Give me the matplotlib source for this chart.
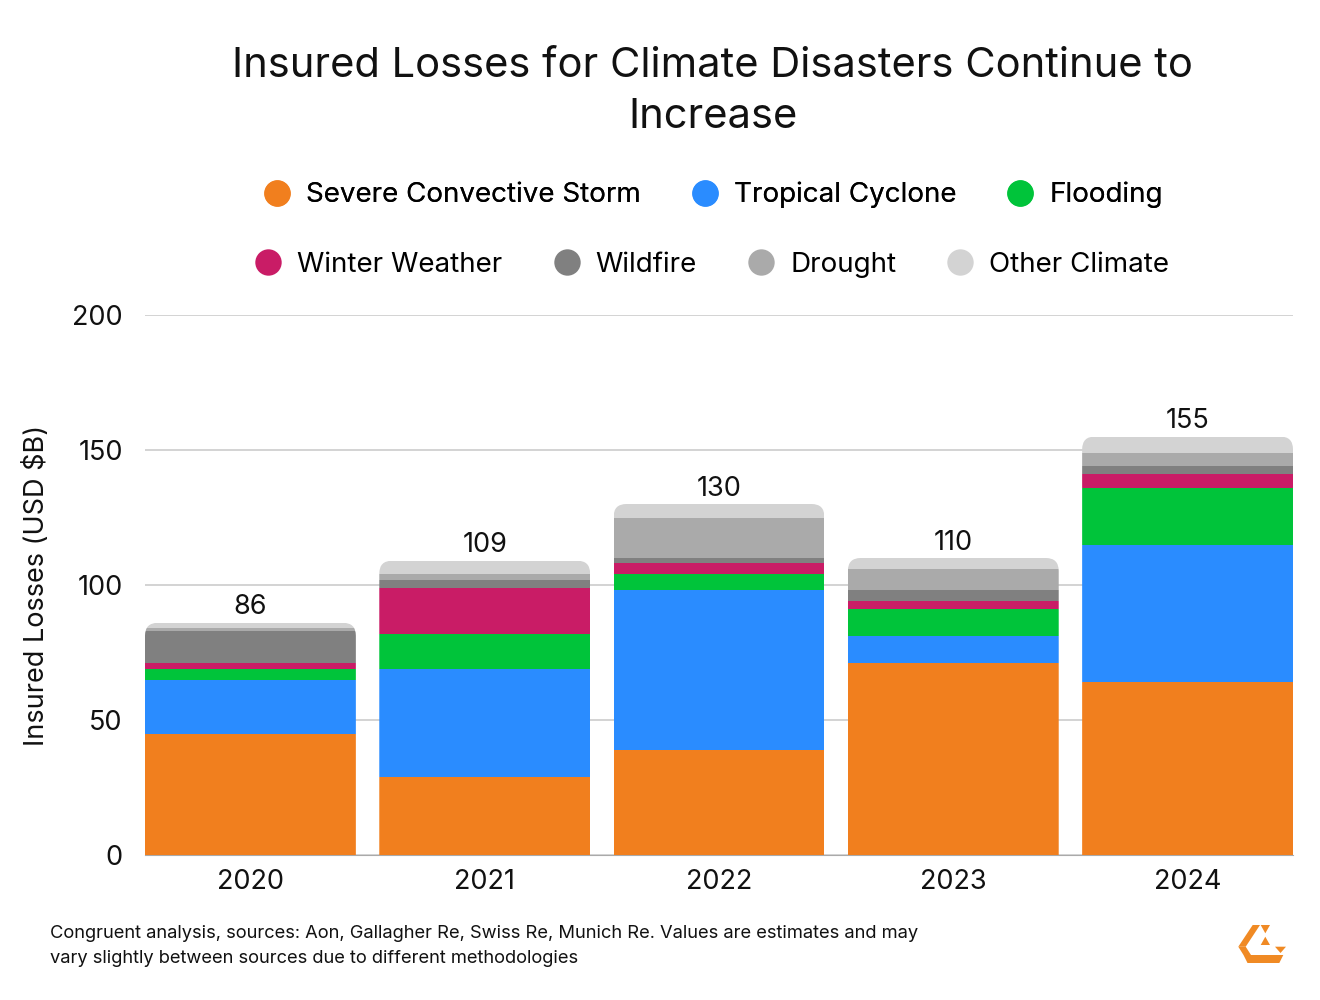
import matplotlib
matplotlib.use("Agg")
import matplotlib.pyplot as plt
from matplotlib.patches import FancyBboxPatch, Polygon
from matplotlib.lines import Line2D
import numpy as np

plt.rcParams['font.family'] = ['Inter', 'DejaVu Sans']

years = ['2020', '2021', '2022', '2023', '2024']
totals = [86, 109, 130, 110, 155]

# values in USD $B
severe_storm = [45, 29, 39, 71, 64]
tropical_cyclone = [20, 40, 59, 10, 51]
flooding = [4, 13, 6, 10, 21]
winter_weather = [2, 17, 4, 3, 5]
wildfire = [12, 3, 2, 4, 3]
drought = [1, 2, 15, 8, 5]
other_climate = [2, 5, 5, 4, 6]

series = [
    ('Severe Convective Storm', severe_storm, '#F17F1E'),
    ('Tropical Cyclone', tropical_cyclone, '#2A8CFF'),
    ('Flooding', flooding, '#00C43A'),
    ('Winter Weather', winter_weather, '#C91C66'),
    ('Wildfire', wildfire, '#808080'),
    ('Drought', drought, '#AAAAAA'),
    ('Other Climate', other_climate, '#D3D3D3'),
]

fig = plt.figure(figsize=(13.2, 10), dpi=100)
ax = fig.add_axes([145 / 1320, 0.145, (1293 - 145) / 1320, 0.54])

x = np.arange(len(years))
width = 0.9
ax.set_xlim(-0.45, 4.45)
ax.set_ylim(0, 200)

# rounded top: clip each stack with a rounded box
ax_w_px = 1293 - 145
ax_h_px = 540
px_x = ax_w_px / 4.9
px_y = ax_h_px / 200
clips = []
for i in range(len(years)):
    cp = FancyBboxPatch((x[i] - width / 2, -50), width, totals[i] + 50,
                        boxstyle='round,pad=0,rounding_size=0.055',
                        mutation_aspect=px_x / px_y,
                        transform=ax.transData, facecolor='none',
                        edgecolor='none')
    clips.append(cp)

bottom = np.zeros(len(years))
for name, vals, col in series:
    bars = ax.bar(x, vals, width, bottom=bottom, color=col, label=name,
                  zorder=3, linewidth=0)
    for b, cp in zip(bars, clips):
        b.set_clip_path(cp)
    bottom += np.array(vals)

for i, t in enumerate(totals):
    ax.text(x[i], t + 0.9, str(t), ha='center', va='bottom', fontsize=19.5,
            color='#111111')

ax.set_yticks([0, 50, 100, 150, 200])
ax.set_xticks(x)
ax.set_xticklabels(years)
ax.tick_params(axis='both', length=0, labelsize=19.5, colors='#111111')
ax.tick_params(axis='y', pad=16)
ax.tick_params(axis='x', pad=10)
ax.grid(axis='y', color='#CCCCCC', linewidth=1.2, zorder=0)
for s in ['top', 'right', 'left']:
    ax.spines[s].set_visible(False)
ax.spines['bottom'].set_color('#AAAAAA')
ax.spines['bottom'].set_zorder(1)
ax.set_ylabel('Insured Losses (USD $B)', fontsize=19.5, color='#111111')
ax.yaxis.set_label_coords(-(145 - 50) / ax_w_px, 0.5)

fig.text(0.54, 0.9085, 'Insured Losses for Climate Disasters Continue to\nIncrease',
         ha='center', va='center', fontsize=30, linespacing=1.42,
         color='#111111')

handles = [Line2D([], [], marker='o', linestyle='none', markersize=19,
                  markerfacecolor=col, markeredgecolor='none')
           for _, _, col in series]
labels = [name for name, _, _ in series]
leg1 = fig.legend(handles[:3], labels[:3], loc='center',
                  bbox_to_anchor=(0.535, 0.805), ncol=3, frameon=False,
                  fontsize=20, handletextpad=0.05, columnspacing=1.3)
fig.add_artist(leg1)
fig.legend(handles[3:], labels[3:], loc='center',
           bbox_to_anchor=(0.534, 0.735), ncol=4, frameon=False,
           fontsize=20, handletextpad=0.05, columnspacing=1.3)

fig.text(50 / 1320, 1 - 946 / 1000,
         'Congruent analysis, sources: Aon, Gallagher Re, Swiss Re, Munich Re. '
         'Values are estimates and may\nvary slightly between sources due to '
         'different methodologies',
         ha='left', va='center', fontsize=13.2, linespacing=1.6,
         color='#111111')

# small logo bottom right
logo_parts = [
    [(1252.7, 925), (1260, 925), (1245.7, 946.7), (1238.3, 946.7)],
    [(1238.3, 946.7), (1245.7, 946.7), (1251, 955), (1243.5, 955)],
    [(1243.5, 955), (1283.3, 955), (1279.3, 963), (1247.5, 963)],
    [(1260.7, 925), (1270, 925), (1265.3, 933.3)],
    [(1265.3, 936.7), (1260.7, 945), (1270, 945)],
    [(1275, 946.7), (1286, 946.7), (1280.5, 953)],
]
for pts in logo_parts:
    fx = [(px / 1320, 1 - py / 1000) for px, py in pts]
    fig.patches.append(Polygon(fx, closed=True, transform=fig.transFigure,
                               facecolor='#F08A24', edgecolor='none'))

fig.savefig('out.png', dpi=100, facecolor='white')
